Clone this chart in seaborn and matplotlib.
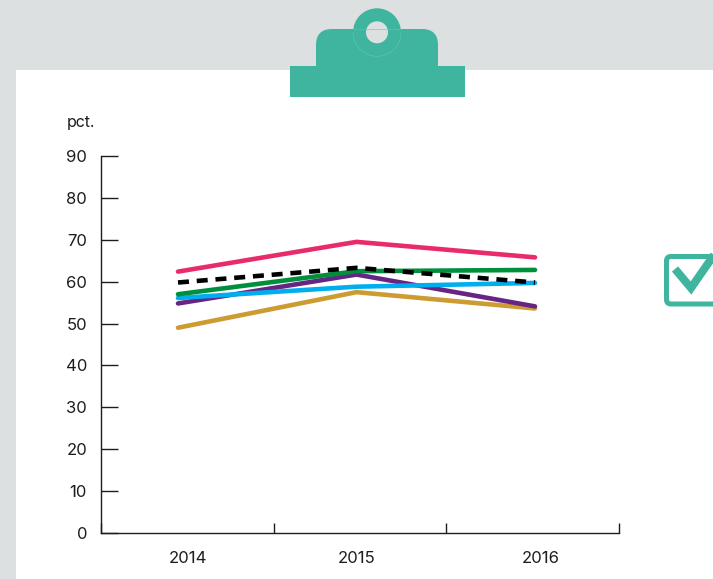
import pandas as pd
import seaborn as sns
import matplotlib
matplotlib.use("Agg")
import matplotlib.pyplot as plt
from matplotlib.patches import Arc, Circle, FancyBboxPatch, Rectangle
from matplotlib.ticker import FixedLocator, NullFormatter

years = [2014, 2015, 2016]
gold = [49.0, 57.5, 53.6]
purple = [54.8, 61.7, 54.1]
blue = [56.1, 58.8, 59.7]
green = [57.0, 62.5, 62.8]
pink = [62.4, 69.5, 65.8]
black = [59.8, 63.3, 59.8]
y_ticks = list(range(0, 100, 10))
year_labels = ["2014", "2015", "2016"]

TEAL = "#3FB5A0"
GREY = "#DCE0E0"
INK = "#1D1D1B"
W, H = 713, 579

sns.set_theme(style="white")
plt.rcParams["font.family"] = ["Inter", "DejaVu Sans"]

df = pd.DataFrame(
    {
        "year": years,
        "gold": gold,
        "purple": purple,
        "blue": blue,
        "green": green,
        "pink": pink,
        "black": black,
    }
).melt(id_vars="year", var_name="series", value_name="pct")

palette = {
    "gold": "#CC9C33",
    "purple": "#662483",
    "blue": "#00AEEF",
    "green": "#008F3C",
    "pink": "#E92A6C",
    "black": "#000000",
}
dashes = {k: "" for k in palette}
dashes["black"] = (2.4, 1.7)

fig = plt.figure(figsize=(W / 100, H / 100), dpi=100, facecolor=GREY)


def px_to_year(px):
    # 2014 sits at x=178 and 2016 at x=535 in the picture
    return 2014 + (px - 178) / 178.5


# page and clipboard, in pixel coordinates
bg = fig.add_axes([0, 0, 1, 1], zorder=0)
bg.set_xlim(0, W)
bg.set_ylim(H, 0)
bg.axis("off")
bg.add_patch(Rectangle((16, 70), W, H, color="white", lw=0))
bg.add_patch(
    FancyBboxPatch(
        (316 + 16, 29 + 16), 122 - 32, 30,
        boxstyle="round,pad=16", color=TEAL, lw=0,
    )
)
bg.add_patch(Rectangle((290, 66), 175, 31, color=TEAL, lw=0))
bg.add_patch(Circle((377, 32.3), 24, color=TEAL, lw=0))
bg.add_patch(Circle((377, 32.3), 11, color=GREY, lw=0))
# faint seam where the ring overlaps the clip
bg.add_patch(Arc((377, 32.3), 48, 48, theta1=0, theta2=180, color="#66C4B2", lw=0.4))
bg.plot([353, 401], [29, 29], color="#66C4B2", lw=0.4)

# check box on the right edge
bg.add_patch(
    FancyBboxPatch(
        (671, 261), 60, 38.5,
        boxstyle="round,pad=4.5", fc="white", ec=TEAL, lw=3.6,
    )
)
bg.plot(
    [675, 691, 716], [269, 288, 252],
    color=TEAL, lw=5.8, solid_capstyle="butt", solid_joinstyle="miter",
)

ax = fig.add_axes([101 / W, 1 - 533 / H, 518 / W, 377 / H], zorder=1)
ax.patch.set_alpha(0)
sns.lineplot(
    data=df,
    x="year",
    y="pct",
    hue="series",
    hue_order=list(palette),
    style="series",
    style_order=list(palette),
    palette=palette,
    dashes=dashes,
    linewidth=3.3,
    legend=False,
    errorbar=None,
    ax=ax,
)
for line in ax.get_lines():
    line.set_solid_capstyle("round")
    line.set_dash_capstyle("butt")

ax.set_xlim(px_to_year(101), px_to_year(619))
ax.set_ylim(0, 90)
ax.set_xlabel("")
ax.set_ylabel("")

ax.set_yticks(y_ticks)
ax.tick_params(
    axis="y", direction="in", left=True, length=12.5, width=1, color=INK,
    labelsize=12, labelcolor=INK, pad=10,
)

# boundary ticks carry no text, the year labels hang on minor ticks
ax.xaxis.set_major_locator(FixedLocator([px_to_year(p) for p in (101, 274, 446, 619)]))
ax.xaxis.set_major_formatter(NullFormatter())
ax.tick_params(
    axis="x", which="major", direction="in", bottom=True, length=7, width=1, color=INK
)
ax.set_xticks([px_to_year(p) for p in (188, 357, 541)], minor=True)
ax.set_xticklabels(year_labels, minor=True)
ax.tick_params(
    axis="x", which="minor", bottom=True, length=0, labelsize=12, labelcolor=INK, pad=13
)

sns.despine(ax=ax)
for side in ("left", "bottom"):
    ax.spines[side].set_color(INK)
    ax.spines[side].set_linewidth(1)

bg.text(80.5, 122, "pct.", ha="center", va="center", fontsize=11.5, color=INK)

fig.savefig("out.png", dpi=100, facecolor=GREY)
